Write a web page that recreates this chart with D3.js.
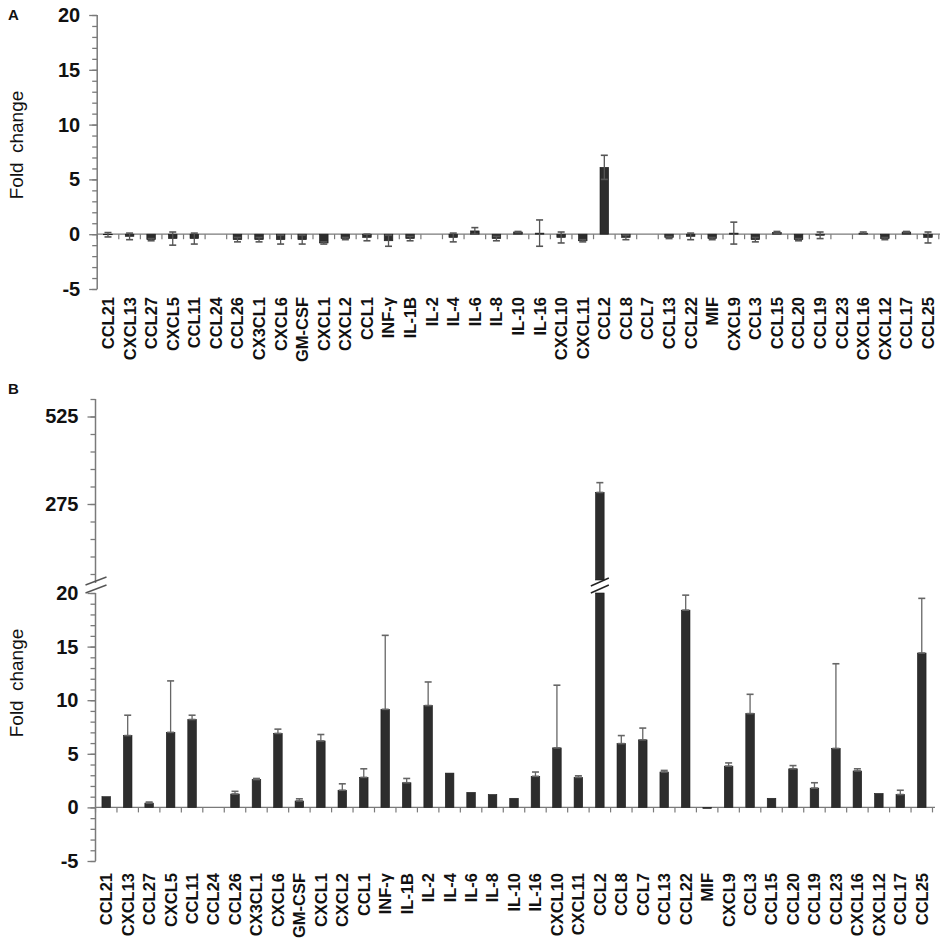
<!DOCTYPE html>
<html>
<head>
<meta charset="utf-8">
<script src="https://cdn.jsdelivr.net/npm/d3@7"></script>
<style>
  body { margin: 0; background: #fff; }
  svg { font-family: "Liberation Sans", Arial, sans-serif; }
</style>
</head>
<body>
<div id="container"></div>
<script>
const categories = ["CCL21", "CXCL13", "CCL27", "CXCL5", "CCL11", "CCL24", "CCL26", "CX3CL1",
  "CXCL6", "GM-CSF", "CXCL1", "CXCL2", "CCL1", "INF-γ", "IL-1B", "IL-2", "IL-4", "IL-6", "IL-8",
  "IL-10", "IL-16", "CXCL10", "CXCL11", "CCL2", "CCL8", "CCL7", "CCL13", "CCL22", "MIF", "CXCL9",
  "CCL3", "CCL15", "CCL20", "CCL19", "CCL23", "CXCL16", "CXCL12", "CCL17", "CCL25"];

// panel A fold change and error
const foldA = [-0.05, -0.2, -0.5, -0.4, -0.4, 0, -0.5, -0.5, -0.5, -0.5, -0.8, -0.4, -0.3, -0.6,
  -0.4, 0, -0.3, 0.3, -0.4, 0.2, 0.1, -0.3, -0.6, 6.1, -0.3, 0, -0.3, -0.2, -0.4, 0.1, -0.5,
  0.15, -0.5, -0.1, 0, 0.1, -0.4, 0.2, -0.3];
const errA = [0.2, 0.3, 0.1, 0.6, 0.5, 0, 0.2, 0.2, 0.4, 0.4, 0.1, 0.1, 0.3, 0.5, 0.2, 0, 0.4,
  0.3, 0.2, 0.05, 1.2, 0.5, 0.1, 1.1, 0.2, 0, 0.1, 0.3, 0.1, 1.0, 0.2, 0.1, 0.1, 0.3, 0, 0.1,
  0.1, 0.05, 0.5];

// panel B fold change and error
const foldB = [1.0, 6.7, 0.4, 7.0, 8.2, 0, 1.25, 2.6, 6.9, 0.6, 6.2, 1.6, 2.8, 9.15, 2.3, 9.5,
  3.2, 1.4, 1.2, 0.85, 2.9, 5.55, 2.8, 308, 5.95, 6.3, 3.3, 18.4, -0.1, 3.85, 8.75, 0.85, 3.6,
  1.8, 5.5, 3.4, 1.3, 1.2, 14.4];
const errB = [0, 1.9, 0.1, 4.8, 0.4, 0, 0.25, 0.1, 0.4, 0.2, 0.6, 0.6, 0.8, 6.9, 0.4, 2.2, 0,
  0, 0, 0, 0.4, 5.85, 0.15, 28, 0.75, 1.1, 0.15, 1.4, 0, 0.3, 1.8, 0, 0.3, 0.5, 7.9, 0.2, 0,
  0.4, 5.1];

const ticksA = [-5, 0, 5, 10, 15, 20];
const ticksBLow = [-5, 0, 5, 10, 15, 20];
const ticksBHigh = [275, 525];
const minorBHigh = [75, 125, 175, 225, 275, 325, 375, 425, 475, 525, 575];

const W = 946, H = 943;
const axisColor = "#7a7a7a";
const barColor = "#2d2d2d";
const errColor = "#666";

const svg = d3.select("#container").append("svg").attr("width", W).attr("height", H);

const setAttrs = (el, attrs) =>
  Object.entries(attrs).reduce((acc, [key, val]) => acc.attr(key, val), el);

function styleAxis(g) {
  g.select(".domain").remove();
  g.selectAll(".tick line").attr("stroke", axisColor).attr("stroke-width", 1.3);
  g.selectAll(".tick text")
    .attr("fill", "#111")
    .style("font-size", "20px")
    .style("font-weight", "bold");
}

function yAxis(g, scale, major, minor, labelled = major) {
  const gMinor = g.append("g").call(
    d3.axisLeft(scale).tickValues(minor).tickSize(5).tickFormat("")
  );
  styleAxis(gMinor);
  const gMajor = g.append("g").call(
    d3.axisLeft(scale).tickValues(major).tickSize(8).tickPadding(9)
      .tickFormat((d) => (labelled.includes(d) ? d : ""))
  );
  styleAxis(gMajor);
}

function categoryAxis(g, x, y0, xEnd) {
  setAttrs(g.append("line"), {
    x1: x.range()[0], x2: xEnd, y1: y0, y2: y0, stroke: axisColor, "stroke-width": 1.3
  });
  const bounds = d3.range(categories.length + 1).map((i) => x.range()[0] + i * x.step());
  g.selectAll(".xt").data(bounds).join("line")
    .attr("x1", (d) => d).attr("x2", (d) => d)
    .attr("y1", y0).attr("y2", y0 + 5)
    .attr("stroke", axisColor).attr("stroke-width", 1.2);
}

function categoryLabels(g, x, yTop) {
  g.selectAll(".lbl").data(categories).join("text")
    .attr("transform", (d) => `translate(${x(d) + x.bandwidth() / 2},${yTop}) rotate(-90)`)
    .attr("text-anchor", "end")
    .attr("dy", "0.36em")
    .attr("fill", "#111")
    .style("font-size", "16.5px")
    .style("font-weight", "bold")
    .text((d) => d);
}

function yTitle(g, xPos, yPos) {
  g.append("text")
    .attr("transform", `translate(${xPos},${yPos}) rotate(-90)`)
    .attr("text-anchor", "middle")
    .attr("fill", "#111")
    .style("font-size", "19px")
    .style("word-spacing", "4px")
    .text("Fold change");
}

function errorBar(g, cx, yTopPx, yBotPx, color = errColor) {
  setAttrs(g.append("line"), { x1: cx, x2: cx, y1: yTopPx, y2: yBotPx, stroke: color, "stroke-width": 1.3 });
  setAttrs(g.append("line"), { x1: cx - 3.5, x2: cx + 3.5, y1: yTopPx, y2: yTopPx, stroke: color, "stroke-width": 1.6 });
  setAttrs(g.append("line"), { x1: cx - 3.5, x2: cx + 3.5, y1: yBotPx, y2: yBotPx, stroke: color, "stroke-width": 1.6 });
}

// ---------- Panel A ----------
const gA = svg.append("g");
const xA = d3.scaleBand().domain(categories).range([97.2, 938.8]).paddingInner(0.6).paddingOuter(0.3);
const yA = d3.scaleLinear().domain([-5, 20]).range([289, 15]);

setAttrs(gA.append("text").text("A"), { x: 8, y: 20, fill: "#111" })
  .style("font-size", "15px").style("font-weight", "bold");

categoryAxis(gA, xA, yA(0), 940);

gA.selectAll(".bar").data(categories).join("rect")
  .attr("x", (d) => xA(d))
  .attr("width", xA.bandwidth())
  .attr("y", (d, i) => yA(Math.max(0, foldA[i])))
  .attr("height", (d, i) => Math.abs(yA(foldA[i]) - yA(0)))
  .attr("fill", barColor)
  .attr("stroke", "#1a1a1a")
  .attr("stroke-width", 0.6);

categories.forEach((c, i) => {
  if (errA[i] === 0) return;
  const cx = xA(c) + xA.bandwidth() / 2;
  errorBar(gA, cx, yA(foldA[i] + errA[i]), yA(foldA[i] - errA[i]), "#555");
});

const gAy = gA.append("g").attr("transform", `translate(${xA.range()[0]},0)`);
yAxis(gAy, yA, ticksA, d3.range(-5, 21, 1));
setAttrs(gA.append("line"), { x1: xA.range()[0], x2: xA.range()[0], y1: yA(20), y2: yA(-5), stroke: axisColor, "stroke-width": 1.5 });

categoryLabels(gA, xA, 297);
yTitle(gA, 23, 145);

// ---------- Panel B ----------
const gB = svg.append("g");
const xB = d3.scaleBand().domain(categories).range([95.5, 932.5]).paddingInner(0.6).paddingOuter(0.3);
const yB = d3.scaleLinear().domain([-5, 20]).range([861, 593]);
const yBU = d3.scaleLinear().domain([75, 575]).range([574, 399]);
const breakHigh = 580;
const limitLow = 20;

setAttrs(gB.append("text").text("B"), { x: 8, y: 394, fill: "#111" })
  .style("font-size", "15px").style("font-weight", "bold");

categoryAxis(gB, xB, yB(0), 935);

categories.forEach((c, i) => {
  const v = foldB[i];
  const x0 = xB(c), bw = xB.bandwidth(), cx = x0 + bw / 2;
  if (v > limitLow) {
    setAttrs(gB.append("rect"), {
      x: x0, width: bw, y: yB(limitLow), height: yB(0) - yB(limitLow),
      fill: barColor, stroke: "#1a1a1a", "stroke-width": 0.6
    });
    setAttrs(gB.append("rect"), {
      x: x0, width: bw, y: yBU(v), height: breakHigh - yBU(v),
      fill: barColor, stroke: "#1a1a1a", "stroke-width": 0.6
    });
    if (errB[i] > 0) errorBar(gB, cx, yBU(v + errB[i]), yBU(v));
    // break marks across the bar
    [0, 7].forEach((o) => {
      setAttrs(gB.append("line"), {
        x1: cx - 9, x2: cx + 9, y1: breakHigh + 6 + o, y2: breakHigh - 2 + o,
        stroke: "#222", "stroke-width": 1.4
      });
    });
  } else {
    setAttrs(gB.append("rect"), {
      x: x0, width: bw, y: yB(Math.max(0, v)), height: Math.abs(yB(v) - yB(0)),
      fill: barColor, stroke: "#1a1a1a", "stroke-width": 0.6
    });
    if (errB[i] > 0) errorBar(gB, cx, yB(v + errB[i]), yB(v));
  }
});

const axX = xB.range()[0];
const gBy = gB.append("g").attr("transform", `translate(${axX},0)`);
yAxis(gBy, yB, ticksBLow, d3.range(-5, 21, 1));
const gByU = gB.append("g").attr("transform", `translate(${axX},0)`);
yAxis(gByU, yBU, ticksBHigh, minorBHigh);
setAttrs(gB.append("line"), { x1: axX, x2: axX, y1: yB(20), y2: yB(-5), stroke: axisColor, "stroke-width": 1.5 });
setAttrs(gB.append("line"), { x1: axX, x2: axX, y1: yBU(575), y2: breakHigh + 3, stroke: axisColor, "stroke-width": 1.5 });
// axis break marks
[0, 8].forEach((o) => {
  setAttrs(gB.append("line"), {
    x1: axX - 10, x2: axX + 11, y1: breakHigh + 5 + o, y2: breakHigh - 3 + o,
    stroke: "#555", "stroke-width": 1.4
  });
});

categoryLabels(gB, xB, 873);
yTitle(gB, 23, 683);
</script>
</body>
</html>
